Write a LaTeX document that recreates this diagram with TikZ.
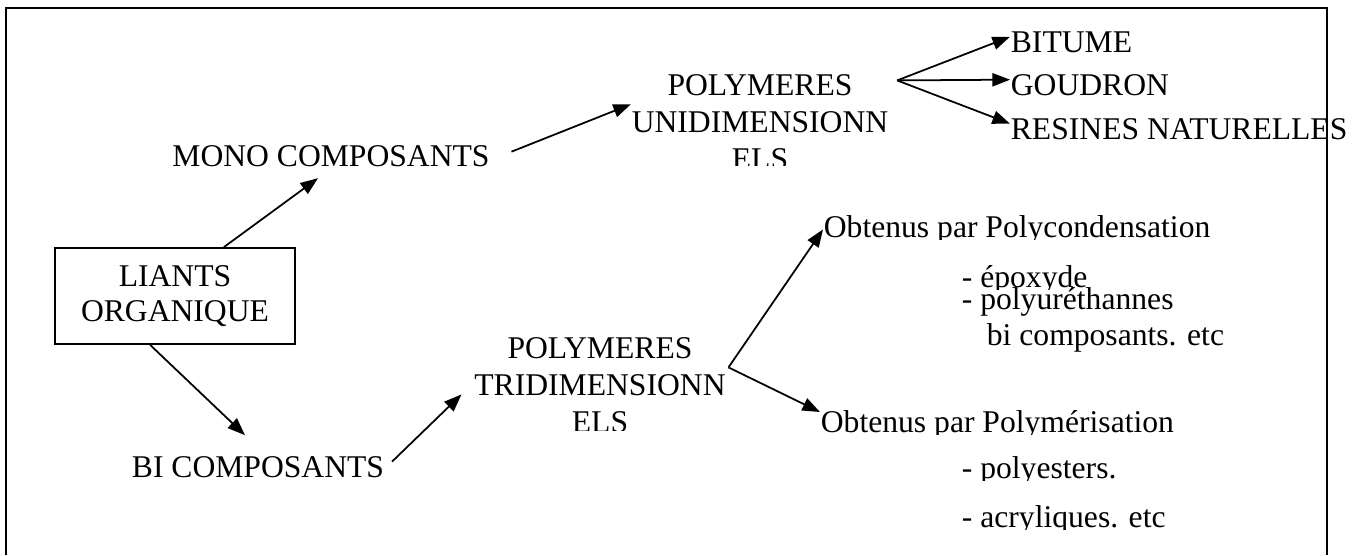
\documentclass[tikz,border=0pt]{standalone}
\usepackage{fontspec}
\setmainfont{Liberation Serif}
\usetikzlibrary{arrows.meta}

\tikzset{
  txt/.style={inner sep=0pt, font=\fontsize{18}{21}\selectfont},
  arr/.style={-{Triangle[length=10pt,width=7.5pt]}, line width=1pt},
}

\begin{document}
\begin{tikzpicture}[x=0.02cm, y=-0.02cm, line width=1pt]
\useasboundingbox (0,0) rectangle (1369,555);

% open frame
\draw (6,555) -- (6,8) -- (1327,8) -- (1327,555);

\node [draw, txt, align=center, minimum width=4.8cm, minimum height=1.92cm,
       font=\fontsize{18}{20}\selectfont] (liants) at (175,296) {LIANTS\\ORGANIQUE};

\node [txt, anchor=base] (mono) at (331,166) {MONO COMPOSANTS};
\node [txt, anchor=base] (bi) at (258,477) {BI COMPOSANTS};

% text boxes cut off at the bottom
\begin{scope}
\clip (600,0) rectangle (900,165);
\node [txt, align=center, anchor=north] (uni) at (760,74) {POLYMERES\\UNIDIMENSIONN\\ELS};
\end{scope}
\begin{scope}
\clip (450,300) rectangle (740,430);
\node [txt, align=center, anchor=north] (tri) at (600,337) {POLYMERES\\TRIDIMENSIONN\\ELS};
\end{scope}

\node [txt, anchor=base west] (bitume) at (1010,52) {BITUME};
\node [txt, anchor=base west] (goudron) at (1010,95) {GOUDRON};
\node [txt, anchor=base west] (resines) at (1010,139) {RESINES NATURELLES};

\begin{scope}
\clip (800,200) rectangle (1250,239);
\node [txt, anchor=base west] (polycond) at (823,237) {Obtenus par Polycondensation};
\end{scope}
\begin{scope}
\clip (950,260) rectangle (1100,289);
\node [txt, anchor=base west] (epoxy) at (961,287) {- époxyde};
\end{scope}
\node [txt, anchor=base west] (polyur) at (961,309) {- polyuréthannes};
\node [txt, anchor=base west] (bicomp) at (986,345) {bi composants. etc};

\begin{scope}
\clip (800,395) rectangle (1250,434);
\node [txt, anchor=base west] (polym) at (820,432) {Obtenus par Polymérisation};
\end{scope}
\begin{scope}
\clip (950,450) rectangle (1250,480);
\node [txt, anchor=base west] (polyest) at (961,478) {- polyesters.};
\end{scope}
\begin{scope}
\clip (950,500) rectangle (1250,529);
\node [txt, anchor=base west] (acryl) at (961,527) {- acryliques. etc};
\end{scope}

\coordinate (unifork) at ([shift={(8,-42)}]uni.east);
\coordinate (trifork) at ([shift={(2,-18)}]tri.east);

\draw [arr] (liants.45) -- ([shift={(-13,11)}]mono.south);
\draw [arr] ([shift={(21,-4)}]mono.east) -- (uni.172);
\draw [arr] (liants.243) -- ([shift={(-13,-20)}]bi.north);
\draw [arr] ([shift={(7,-5)}]bi.east) -- ([shift={(-12,9)}]tri.west);

\foreach \t in {bitume, goudron, resines} \draw [arr] (unifork) -- ([shift={(0,-5)}]\t.west);

\draw [arr] (trifork) -- (polycond.west);
\draw [arr] (trifork) -- (polym.176);

\end{tikzpicture}
\end{document}
